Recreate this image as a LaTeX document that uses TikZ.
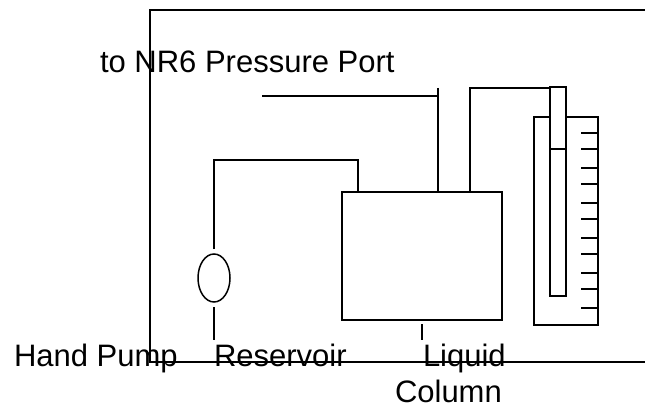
\documentclass[tikz,border=0pt]{standalone}
\usepackage{fontspec}
\setmainfont{Liberation Sans}
\usetikzlibrary{shapes.geometric}
\begin{document}
\begin{tikzpicture}[x=1pt,y=-1pt,line cap=butt,
  wire/.style={draw=black,line width=1.5pt},
  lbl/.style={anchor=base west,inner sep=0pt,outer sep=0pt,font=\fontsize{31}{33}\selectfont,text=black},
  boxnode/.style={draw=black,line width=1.5pt,minimum width=160pt,minimum height=128pt,inner sep=0pt,outer sep=0pt},
  pump/.style={ellipse,draw=black,line width=1.5pt,minimum width=32pt,minimum height=48pt,inner sep=0pt,outer sep=0pt},
  tick/.style={draw=black,line width=1.5pt}]
\useasboundingbox (0,0) rectangle (645,406);
% frame
\coordinate (ftr) at (645,10);
\coordinate (ftl) at (150,10);
\coordinate (fbl) at (150,362);
\coordinate (fbr) at (645,362);
\draw[wire] (ftr) -- (ftl) -- (fbl) -- (fbr);
% reservoir and pump
\node[boxnode] (res) at (422,256) {};
\node[pump] (hp) at (214,278) {};
% pump to reservoir
\coordinate (a1) at (214,160);
\coordinate (a2) at (358,160);
\coordinate (a3) at (358,192);
\coordinate (a0) at (214,249);
\draw[wire] (a0) -- (a1) -- (a2) -- (a3);
% leaders
\coordinate (b1) at (214,307);
\coordinate (b2) at (214,340);
\draw[wire] (b1) -- (b2);
\coordinate (c1) at (422,324);
\coordinate (c2) at (422,340);
\draw[wire] (c1) -- (c2);
% pressure port
\coordinate (d0) at (262,96);
\coordinate (d1) at (438,96);
\coordinate (d2) at (438,88);
\coordinate (d3) at (438,192);
\draw[wire] (d0) -- (d1);
\draw[wire] (d2) -- (d3);
% column feed
\coordinate (e1) at (470,192);
\coordinate (e2) at (470,88);
\coordinate (e3) at (550,88);
\draw[wire] (e1) -- (e2) -- (e3);
% tube
\coordinate (t1) at (550,87);
\coordinate (t2) at (566,87);
\coordinate (t3) at (566,296);
\coordinate (t4) at (550,296);
\draw[wire] (t1) -- (t2) -- (t3) -- (t4) -- cycle;
\coordinate (l1) at (550,149);
\coordinate (l2) at (566,149);
\draw[wire] (l1) -- (l2);
% outer column
\coordinate (o1) at (550,117);
\coordinate (o2) at (534,117);
\coordinate (o3) at (534,325);
\coordinate (o4) at (598,325);
\coordinate (o5) at (598,117);
\coordinate (o6) at (566,117);
\draw[wire] (o1) -- (o2) -- (o3) -- (o4) -- (o5) -- (o6);
% scale
\foreach \y in {133,149,168,184,203,219,238,254,273,289,308}
  \draw[tick] (581,\y) -- (598,\y);
% labels
\node[lbl] (port) at (100,73) {to NR6 Pressure Port};
\node[lbl] (hand) at (14,366) {Hand Pump};
\node[lbl] (rsv) at (214,366) {Reservoir};
\node[lbl] (liq) at (423,366) {Liquid};
\node[lbl] (col) at (395,402.5) {Column};
\end{tikzpicture}
\end{document}
